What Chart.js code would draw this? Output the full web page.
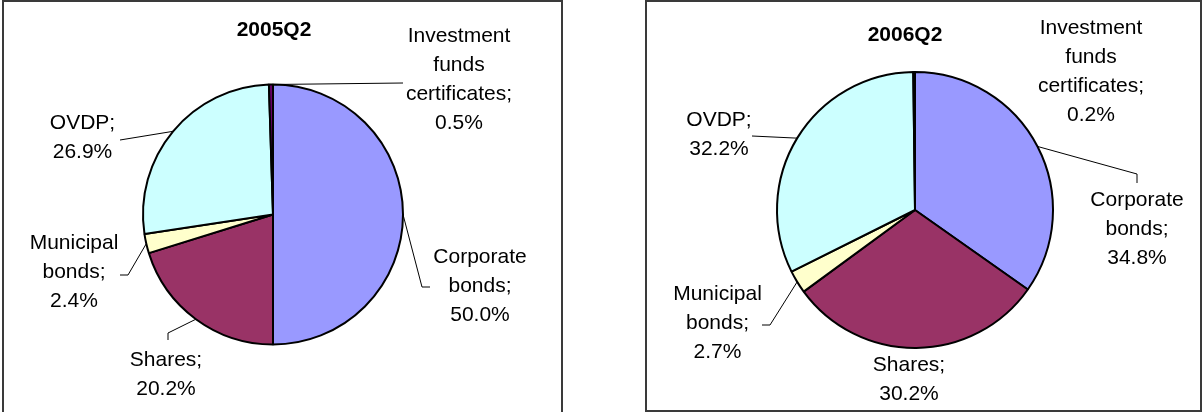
<!DOCTYPE html>
<html lang="en">
<head>
  <meta charset="UTF-8" />
  <title>Portfolio structure 2005Q2 / 2006Q2</title>
  <script src="https://cdn.jsdelivr.net/npm/chart.js"></script>
  <style>
    body { margin: 0; background: #fff; overflow: hidden; width: 1202px; height: 412px; position: relative; }
    .box { position: absolute; box-sizing: border-box; border: 2px solid #3a3a3a; background: #fff; }
    canvas { display: block; }
  </style>
</head>
<body>

  <div class="box" style="left:2px; top:0; width:561px; height:414px;">
    <canvas id="pie2005" width="557" height="410"></canvas>
  </div>
  <div class="box" style="left:645px; top:0; width:557px; height:412px;">
    <canvas id="pie2006" width="553" height="408"></canvas>
  </div>

  <script>
    // data
    const categories = ['Corporate bonds', 'Shares', 'Municipal bonds', 'OVDP', 'Investment funds certificates'];
    const periods = ['2005Q2', '2006Q2'];
    const values2005 = [50.0, 20.2, 2.4, 26.9, 0.5];
    const values2006 = [34.8, 30.2, 2.7, 32.2, 0.2];

    const sliceColors = ['#9999FF', '#993366', '#FFFFCC', '#CCFFFF', '#660066'];

    // label placement, relative to the pie centre: [dx, dy of first line], leader bends
    const layout2005 = {
      title: [1, -184.5],
      labels: [[207, 43], [-107, 145.5], [-199, 28.5], [-190.5, -91.5], [186, -178.5]],
      leaders: [
        [[149, 72.5], [157, 72.5]],
        [[-105, 118.5], [-105, 125.5]],
        [[-145, 60.5], [-153, 60.5]],
        [[-153, -74.5]],
        [[130, -131.5]]
      ]
    };
    const layout2006 = {
      title: [-10, -175],
      labels: [[222, -10], [-6, 155], [-197.5, 84], [-196, -90], [176, -182]],
      leaders: [
        [[222, -36], [222, -27]],
        null,
        [[-145, 115], [-153, 115]],
        [[-163, -74]],
        null
      ]
    };

    const LINE_H = 29;

    function labelLines(name, value) {
      const words = name.split(' ');
      words[words.length - 1] += ';';
      words.push(value.toFixed(1) + '%');
      return words;
    }

    // draws title, data labels and leader lines
    const pieLabels = {
      id: 'pieLabels',
      afterDraw(chart, args, opts) {
        const ctx = chart.ctx;
        const meta = chart.getDatasetMeta(0);
        const values = chart.data.datasets[0].data;
        const cx = meta.data[0].x;
        const cy = meta.data[0].y;

        ctx.save();
        ctx.fillStyle = '#000';
        ctx.textAlign = 'center';
        ctx.textBaseline = 'middle';

        ctx.font = 'bold 21px "Liberation Sans", Arial, sans-serif';
        ctx.fillText(opts.title, cx + opts.layout.title[0], cy + opts.layout.title[1]);

        ctx.font = '21px "Liberation Sans", Arial, sans-serif';
        meta.data.forEach((arc, i) => {
          const p = arc.getProps(['x', 'y', 'startAngle', 'endAngle', 'outerRadius'], true);
          const leader = opts.layout.leaders[i];
          if (leader) {
            const mid = (p.startAngle + p.endAngle) / 2;
            ctx.beginPath();
            ctx.strokeStyle = '#000';
            ctx.lineWidth = 1;
            ctx.moveTo(p.x + Math.cos(mid) * p.outerRadius, p.y + Math.sin(mid) * p.outerRadius);
            leader.forEach(pt => ctx.lineTo(cx + pt[0], cy + pt[1]));
            ctx.stroke();
          }
          const pos = opts.layout.labels[i];
          labelLines(categories[i], values[i]).forEach((line, k) => {
            ctx.fillText(line, cx + pos[0], cy + pos[1] + k * LINE_H);
          });
        });
        ctx.restore();
      }
    };

    function makePie(canvasId, values, title, layout, radius, padding) {
      return new Chart(document.getElementById(canvasId).getContext('2d'), {
        type: 'pie',
        data: {
          labels: categories,
          datasets: [{
            data: values,
            backgroundColor: sliceColors,
            borderColor: '#000',
            borderWidth: 2,
            radius: radius
          }]
        },
        options: {
          responsive: false,
          animation: false,
          layout: { padding: padding },
          plugins: {
            legend: { display: false },
            tooltip: { enabled: false },
            pieLabels: { title: title, layout: layout }
          }
        },
        plugins: [pieLabels]
      });
    }

    makePie('pie2005', values2005, periods[0], layout2005, 130, { left: 0, right: 19, top: 15, bottom: 0 });
    makePie('pie2006', values2006, periods[1], layout2006, 138, { left: 0, right: 17, top: 8, bottom: 0 });
  </script>

</body>
</html>
